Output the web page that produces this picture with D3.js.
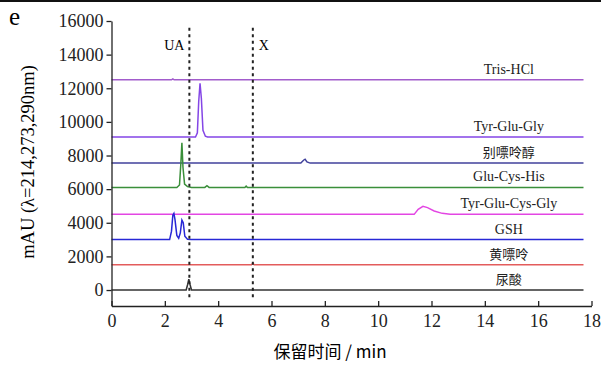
<!DOCTYPE html>
<html>
<head>
<meta charset="utf-8">
<script src="https://cdn.jsdelivr.net/npm/d3@7"></script>
<style>
  body { margin: 0; background: #fff; }
  svg { display: block; }
</style>
</head>
<body>
<div id="chart"></div>
<script>
const W = 601, H = 367;

// tick values
const xTicks = [0, 2, 4, 6, 8, 10, 12, 14, 16, 18];
const yTicks = [0, 2000, 4000, 6000, 8000, 10000, 12000, 14000, 16000];

// dashed marker lines (retention time, min)
const markerNames = ['UA', 'X'];
const markerTimes = [2.92, 5.3];

// series: name, colour, [time, mAU] points
const seriesNames = ['Tris-HCl', 'Tyr-Glu-Gly', '别嘌呤醇', 'Glu-Cys-His',
                     'Tyr-Glu-Cys-Gly', 'GSH', '黄嘌呤', '尿酸'];
const seriesColors = ['#a25ccc', '#8446e6', '#41429c', '#3a8f3a',
                      '#e346e3', '#2828d6', '#e35c5c', '#333333'];
const trisHCl = [[0, 12500], [2.25, 12500], [2.3, 12560], [2.35, 12500], [17.7, 12500]];
const tyrGluGly = [[0, 9100], [3.15, 9100], [3.22, 9350], [3.27, 11200], [3.32, 12300],
                   [3.37, 11400], [3.43, 9500], [3.52, 9150], [3.6, 9100], [17.7, 9100]];
const allopurinol = [[0, 7550], [7.1, 7550], [7.2, 7720], [7.26, 7780], [7.33, 7620],
                     [7.45, 7550], [17.7, 7550]];
const gluCysHis = [[0, 6100], [2.45, 6100], [2.55, 6250], [2.6, 7500], [2.64, 8750],
                   [2.68, 7300], [2.74, 6300], [2.85, 6150], [3.0, 6100], [3.5, 6100],
                   [3.58, 6200], [3.66, 6100], [5.0, 6100], [5.05, 6180], [5.1, 6100],
                   [17.7, 6100]];
const tyrGluCysGly = [[0, 4500], [11.35, 4500], [11.5, 4800], [11.68, 4980], [11.85, 4900],
                      [12.1, 4700], [12.4, 4560], [12.7, 4500], [17.7, 4500]];
const gsh = [[0, 3000], [2.18, 3000], [2.25, 3500], [2.3, 4450], [2.34, 4560],
             [2.38, 4200], [2.45, 3250], [2.52, 3080], [2.58, 3400], [2.64, 4160],
             [2.69, 4000], [2.75, 3200], [2.85, 3020], [3.0, 3000], [17.7, 3000]];
const xanthine = [[0, 1500], [5.25, 1500], [5.3, 1600], [5.35, 1500], [17.7, 1500]];
const uricAcid = [[0, 0], [2.8, 0], [2.85, 300], [2.9, 650], [2.95, 300], [3.0, 0], [17.7, 0]];
const seriesData = [trisHCl, tyrGluGly, allopurinol, gluCysHis,
                    tyrGluCysGly, gsh, xanthine, uricAcid];
const seriesBase = [12500, 9100, 7550, 6100, 4500, 3000, 1500, 0];

const serif = '"Liberation Serif", "Times New Roman", serif';
const cjk = '"Noto Sans CJK SC", sans-serif';
const isCJK = s => /[\u4e00-\u9fff]/.test(s);

const svg = d3.select('#chart').append('svg')
    .attr('width', W).attr('height', H);

const x = d3.scaleLinear().domain([0, 18]).range([111.5, 591.5]);
const y = d3.scaleLinear().domain([-950, 16000]).range([306, 21]);

// top border line
svg.append('line')
    .attr('x1', 0).attr('x2', W).attr('y1', 1).attr('y2', 1)
    .attr('stroke', '#111').attr('stroke-width', 2);

// panel letter
svg.append('text')
    .attr('x', 9).attr('y', 25)
    .style('font-family', serif)
    .style('font-size', '25px')
    .text('e');

const line = d3.line()
    .x(d => x(d[0]))
    .y(d => y(d[1]));

// chromatogram traces
seriesData.forEach((pts, i) => {
    svg.append('path')
        .datum(pts)
        .attr('fill', 'none')
        .attr('stroke', seriesColors[i])
        .attr('stroke-width', 1.5)
        .attr('d', line);
});

// dashed markers
markerTimes.forEach((t, i) => {
    svg.append('line')
        .attr('x1', x(t)).attr('x2', x(t))
        .attr('y1', y(15600)).attr('y2', y(-600))
        .attr('stroke', '#222')
        .attr('stroke-width', 2)
        .attr('stroke-dasharray', '3,3.5');
    svg.append('text')
        .attr('x', i === 0 ? x(t) - 5 : x(t) + 6)
        .attr('y', y(14300))
        .attr('text-anchor', i === 0 ? 'end' : 'start')
        .style('font-family', serif)
        .style('font-size', '14px')
        .text(markerNames[i]);
});

// series labels above each baseline
seriesNames.forEach((name, i) => {
    svg.append('text')
        .attr('x', x(14.9))
        .attr('y', y(seriesBase[i]) - 6)
        .attr('text-anchor', 'middle')
        .style('font-family', isCJK(name) ? cjk : serif)
        .style('font-size', isCJK(name) ? '13px' : '14px')
        .style('fill', '#222')
        .text(name);
});

// axes
const fmt = d3.format('d');
const xAxis = svg.append('g')
    .attr('transform', 'translate(0,306)')
    .call(d3.axisBottom(x).tickValues(xTicks).tickFormat(fmt)
        .tickSize(-5).tickSizeOuter(0).tickPadding(8));

const yAxis = svg.append('g')
    .attr('transform', 'translate(111.5,0)')
    .call(d3.axisLeft(y).tickValues(yTicks).tickFormat(fmt)
        .tickSize(5).tickSizeOuter(0).tickPadding(3));

[xAxis, yAxis].forEach(g => {
    g.selectAll('path, line').attr('stroke', '#222').attr('stroke-width', 1.3);
    g.selectAll('text')
        .attr('fill', '#222')
        .style('font-family', serif)
        .style('font-size', '18px');
});

// axis titles
svg.append('text')
    .attr('transform', 'translate(34,162) rotate(-90)')
    .attr('text-anchor', 'middle')
    .style('font-family', serif)
    .style('font-size', '18.5px')
    .text('mAU (λ=214,273,290nm)');

svg.append('text')
    .attr('x', 330).attr('y', 358)
    .attr('text-anchor', 'middle')
    .style('font-family', cjk)
    .style('font-size', '17px')
    .text('保留时间 / min');
</script>
</body>
</html>
